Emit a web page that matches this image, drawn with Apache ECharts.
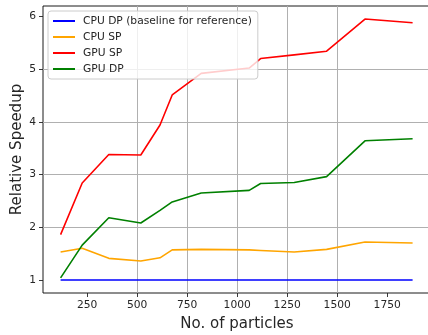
<!DOCTYPE html>
<html>
<head>
<meta charset="utf-8">
<script src="https://cdn.jsdelivr.net/npm/echarts@6/dist/echarts.min.js"></script>
<style>
  html, body { margin: 0; padding: 0; background: #fff; }
  #chart { width: 428px; height: 335px; }
</style>
</head>
<body>
<div id="chart"></div>
<script>
// Number of particles at each benchmark run
const particles = [117, 225, 358, 518, 614, 675, 820, 1060, 1117, 1285, 1447, 1639, 1877];

// Speedup relative to the CPU double-precision run
const cpuDp = [1, 1, 1, 1, 1, 1, 1, 1, 1, 1, 1, 1, 1];
const cpuSp = [1.53, 1.60, 1.41, 1.36, 1.42, 1.57, 1.58, 1.57, 1.56, 1.53, 1.58, 1.72, 1.70];
const gpuSp = [1.86, 2.84, 3.38, 3.37, 3.94, 4.51, 4.92, 5.02, 5.20, 5.27, 5.34, 5.95, 5.88];
const gpuDp = [1.04, 1.66, 2.18, 2.08, 2.32, 2.48, 2.65, 2.70, 2.83, 2.85, 2.96, 3.64, 3.68];

const seriesNames = ['CPU DP (baseline for reference)', 'CPU SP', 'GPU SP', 'GPU DP'];
const seriesValues = [cpuDp, cpuSp, gpuSp, gpuDp];
const seriesColors = ['#0000ff', '#ffa500', '#ff0000', '#008000'];

const xTicks = [250, 500, 750, 1000, 1250, 1500, 1750];
const yTicks = [1, 2, 3, 4, 5, 6];

const FONT = 'DejaVu Sans';
const TEXT = '#262626';

const chart = echarts.init(document.getElementById('chart'), null, { renderer: 'canvas' });

chart.setOption({
  animation: false,
  backgroundColor: '#ffffff',
  grid: {
    left: 43, top: 6, width: 388, height: 287,
    outerBoundsMode: 'none',
    show: true,
    borderColor: '#000000',
    borderWidth: 0.9,
    backgroundColor: 'transparent'
  },
  legend: {
    orient: 'vertical',
    left: 48, top: 11,
    padding: [4, 6, 4, 5],
    itemGap: 4,
    itemWidth: 22,
    itemHeight: 2,
    icon: 'rect',
    backgroundColor: 'rgba(255,255,255,0.8)',
    borderColor: '#cccccc',
    borderWidth: 1,
    borderRadius: 3,
    textStyle: { fontFamily: FONT, fontSize: 10.7, color: TEXT, lineHeight: 12, padding: [0, 0, 0, 3] },
    data: seriesNames
  },
  xAxis: {
    type: 'value',
    min: 29, max: 1969,
    minInterval: 250, maxInterval: 250,
    name: 'No. of particles',
    nameLocation: 'middle',
    nameGap: 24,
    nameMoveOverlap: false,
    nameTextStyle: { fontFamily: FONT, fontSize: 15, color: TEXT },
    axisLine: { show: false },
    axisTick: { show: true, length: 4, customValues: xTicks, lineStyle: { color: '#222', width: 0.9 } },
    axisLabel: {
      customValues: xTicks,
      formatter: (v) => String(v),
      margin: 7,
      fontFamily: FONT, fontSize: 10.7, color: TEXT
    },
    splitLine: { show: true, showMinLine: false, showMaxLine: false, lineStyle: { color: '#b0b0b0', width: 1 } }
  },
  yAxis: {
    type: 'value',
    min: 0.7525, max: 6.1975,
    minInterval: 1, maxInterval: 1,
    name: 'Relative Speedup',
    nameLocation: 'middle',
    nameGap: 18,
    nameMoveOverlap: false,
    nameTextStyle: { fontFamily: FONT, fontSize: 15, color: TEXT },
    axisLine: { show: false },
    axisTick: { show: true, length: 4, customValues: yTicks, lineStyle: { color: '#222', width: 0.9 } },
    axisLabel: {
      customValues: yTicks,
      formatter: (v) => String(v),
      margin: 7,
      fontFamily: FONT, fontSize: 10.7, color: TEXT
    },
    splitLine: { show: true, showMinLine: false, showMaxLine: false, lineStyle: { color: '#b0b0b0', width: 1 } }
  },
  series: seriesNames.map((name, i) => ({
    name: name,
    type: 'line',
    showSymbol: false,
    symbol: 'none',
    color: seriesColors[i],
    itemStyle: { color: seriesColors[i] },
    lineStyle: { color: seriesColors[i], width: 1.6 },
    data: particles.map((p, j) => [p, seriesValues[i][j]])
  }))
});
</script>
</body>
</html>
